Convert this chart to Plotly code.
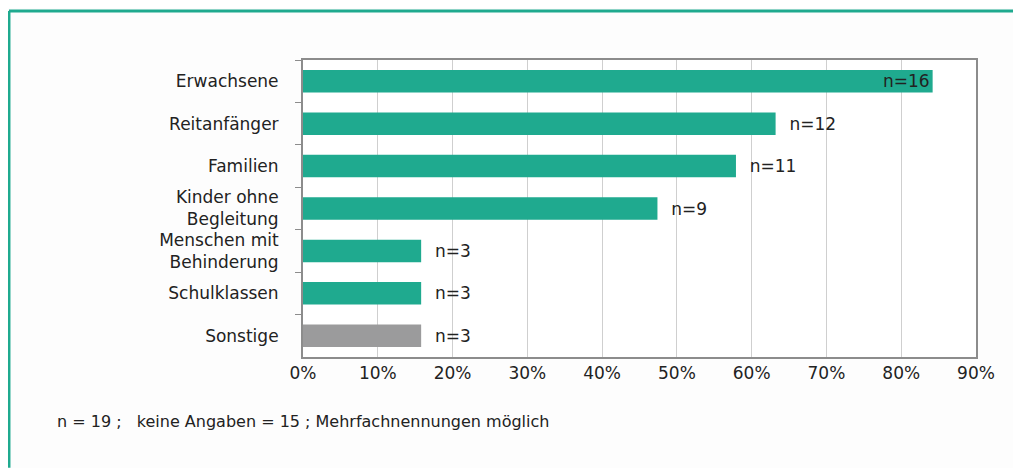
import plotly.graph_objects as go

# Zielgruppen der Angebote (n = 19)
categories = ["Erwachsene", "Reitanfänger", "Familien", "Kinder ohne<br>Begleitung",
              "Menschen mit<br>Behinderung", "Schulklassen", "Sonstige"]
counts = [16, 12, 11, 9, 3, 3, 3]
percent = [84.2, 63.2, 57.9, 47.4, 15.8, 15.8, 15.8]
x_ticks = [0, 10, 20, 30, 40, 50, 60, 70, 80, 90]

teal = "#1faa8f"
grey = "#9b9b9c"
colors = [teal] * 6 + [grey]
positions = ["inside"] + ["outside"] * 6
labels = [("n=%d" if p == "inside" else "  n=%d") % c for c, p in zip(counts, positions)]

fig = go.Figure(go.Bar(
    y=categories, x=percent, orientation="h",
    marker=dict(color=colors, line=dict(width=0)),
    text=labels, textposition=positions, insidetextanchor="end",
    textfont=dict(family="DejaVu Sans", size=17, color="#222222"),
    cliponaxis=False,
))

# the page body adds an 8px margin; the figure runs past the right edge of the window
fig.update_layout(
    width=1021, height=460,
    margin=dict(l=295, r=53, t=52, b=111),
    paper_bgcolor="#fdfdfd", plot_bgcolor="#ffffff",
    bargap=0.47, showlegend=False,
    font=dict(family="DejaVu Sans", size=17, color="#222222"),
    uniformtext=dict(mode="show", minsize=17),
)
fig.update_xaxes(
    range=[0, 90], tickvals=x_ticks, ticktext=["%d%%" % v for v in x_ticks],
    showgrid=True, gridcolor="#cfcfcf", gridwidth=1,
    showline=True, linecolor="#8c8c8c", linewidth=2, mirror=True,
    ticks="", zeroline=False, tickfont=dict(size=17),
)
fig.update_yaxes(
    autorange="reversed", showline=True, linecolor="#8c8c8c", linewidth=2, mirror=True,
    ticks="outside", tickson="boundaries", ticklen=6, tickcolor="#8c8c8c",
    ticklabelstandoff=19, tickfont=dict(size=17), showgrid=False,
)

# Rahmen oben und links
fig.add_shape(type="line", xref="paper", yref="paper",
              x0=-0.4369, x1=1.079, y0=1.165, y1=1.165,
              line=dict(color=teal, width=3))
fig.add_shape(type="line", xref="paper", yref="paper",
              x0=-0.4369, x1=-0.4369, y0=1.165, y1=-0.373,
              line=dict(color=teal, width=3))

fig.add_annotation(
    text="n = 19 ;   keine Angaben = 15 ; Mehrfachnennungen möglich",
    xref="paper", yref="paper", x=-0.3685, y=-0.2155,
    xanchor="left", yanchor="middle", showarrow=False,
    font=dict(family="DejaVu Sans", size=16, color="#222222"),
)

fig.write_html("out.html")
